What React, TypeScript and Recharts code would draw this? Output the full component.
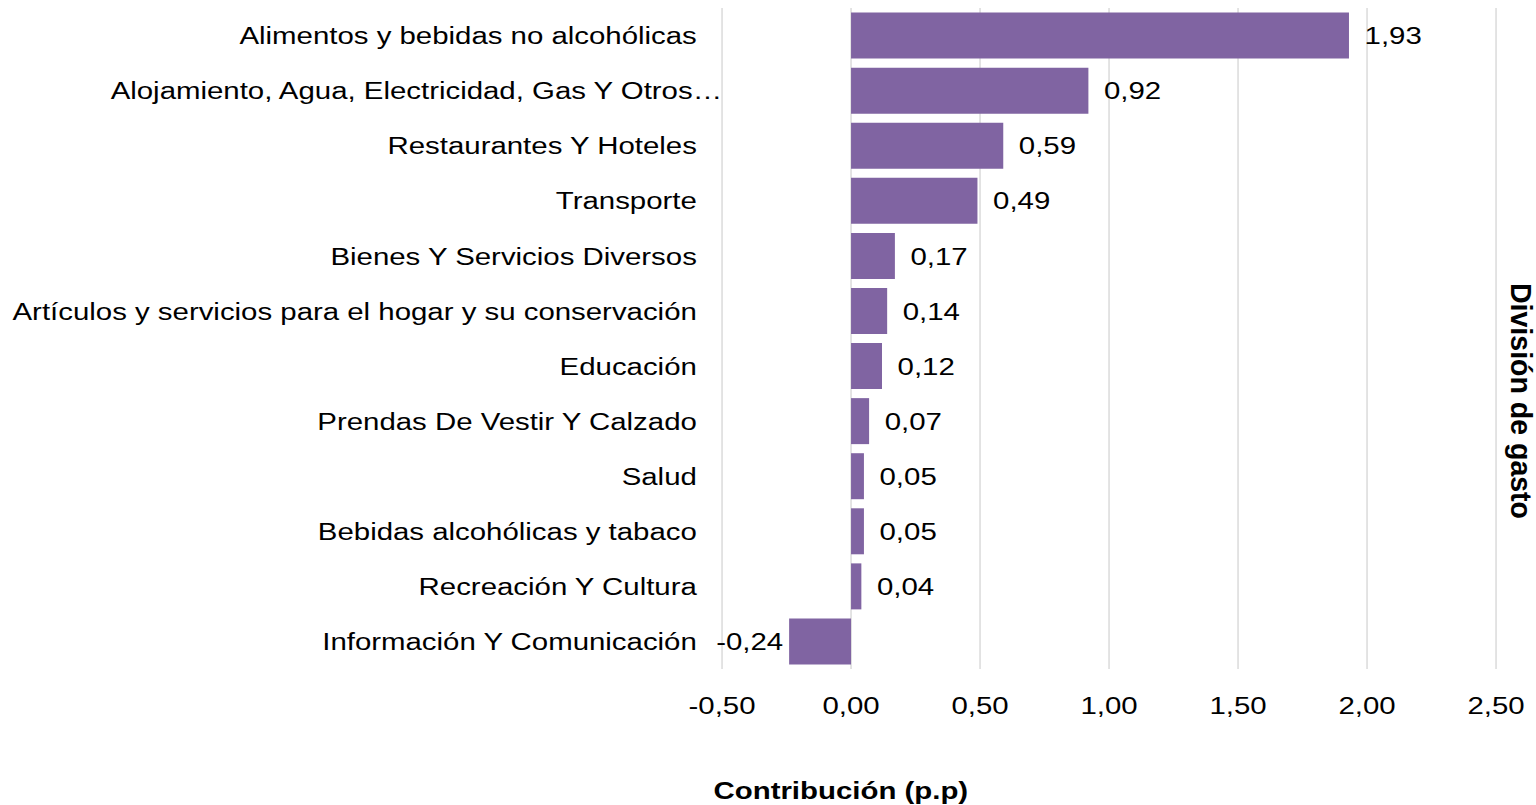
import React from 'react';
import { BarChart, Bar, XAxis, YAxis, CartesianGrid, LabelList } from 'recharts';

const categories: string[] = [
  'Alimentos y bebidas no alcohólicas',
  'Alojamiento, Agua, Electricidad, Gas Y Otros…',
  'Restaurantes Y Hoteles',
  'Transporte',
  'Bienes Y Servicios Diversos',
  'Artículos y servicios para el hogar y su conservación',
  'Educación',
  'Prendas De Vestir Y Calzado',
  'Salud',
  'Bebidas alcohólicas y tabaco',
  'Recreación Y Cultura',
  'Información Y Comunicación',
];

const contributions: number[] = [1.93, 0.92, 0.59, 0.49, 0.17, 0.14, 0.12, 0.07, 0.05, 0.05, 0.04, -0.24];

const xTicks: number[] = [-0.5, 0, 0.5, 1, 1.5, 2, 2.5];

const xTitle = 'Contribución (p.p)';
const yTitle = 'División de gasto';

const data = categories.map((name, i) => ({ name, value: contributions[i] }));

const FONT = '"Liberation Sans", Arial, Helvetica, sans-serif';
const FS = 24.5;
const STRETCH = 1.2;
const CHART_W = 1536 / STRETCH;
const CHART_H = 805;
const BAR_COLOR = '#8064A2';
const GRID_COLOR = '#D9D9D9';

const fmt = (v: number) => v.toFixed(2).replace('.', ',');

const YTick = (props: any) => {
  const { x, y, payload } = props;
  const label: string = String(payload.value);
  const shift = label.endsWith('…') ? 21 : 0;
  return (
    <text x={x + shift} y={y} dy="0.355em" textAnchor="end" fontSize={FS} fontFamily={FONT} fill="#000">
      {label}
    </text>
  );
};

const ValueLabel = (props: any) => {
  const vb = props.viewBox || {};
  const x = props.x ?? vb.x;
  const y = props.y ?? vb.y;
  const width = props.width ?? vb.width;
  const height = props.height ?? vb.height;
  const value = Number(props.value);
  const left = Math.min(x, x + width);
  const right = Math.max(x, x + width);
  const cy = y + height / 2;
  if (value < 0) {
    return (
      <text x={left - 5} y={cy} dy="0.355em" textAnchor="end" fontSize={FS} fontFamily={FONT} fill="#000">
        {fmt(value)}
      </text>
    );
  }
  return (
    <text x={right + 13} y={cy} dy="0.355em" textAnchor="start" fontSize={FS} fontFamily={FONT} fill="#000">
      {fmt(value)}
    </text>
  );
};

const XTitle = (props: any) => {
  const vb = props.viewBox || {};
  const cx = vb.x + 99;
  return (
    <text x={cx} y={799} textAnchor="middle" fontSize={FS} fontWeight="bold" fontFamily={FONT} fill="#000">
      {xTitle}
    </text>
  );
};

const YTitle = () => {
  return (
    <text
      transform={`translate(${CHART_W - 20.8}, 401) rotate(90)`}
      textAnchor="middle"
      fontSize={24}
      fontWeight="bold"
      fontFamily={FONT}
      fill="#000"
      textLength={236}
      lengthAdjust="spacingAndGlyphs"
    >
      {yTitle}
    </text>
  );
};

export default function App() {
  return (
    <div
      style={{
        position: 'absolute',
        left: 0,
        top: 0,
        width: CHART_W,
        height: CHART_H,
        transform: `scaleX(${STRETCH})`,
        transformOrigin: '0 0',
        background: '#fff',
      }}
    >
      <BarChart
        width={CHART_W}
        height={CHART_H}
        data={data}
        layout="vertical"
        margin={{ top: 8, right: CHART_W - 1246.7, bottom: 0, left: 0 }}
        barCategoryGap="8.25%"
      >
        <CartesianGrid horizontal={false} vertical={true} stroke={GRID_COLOR} strokeWidth={1.2} />
        <XAxis
          type="number"
          domain={[-0.5, 2.5]}
          ticks={xTicks}
          tickFormatter={fmt}
          axisLine={false}
          tickLine={false}
          tickSize={0}
          tickMargin={28}
          height={136}
          tick={{ fontSize: FS, fontFamily: FONT, fill: '#000' }}
          interval={0}
          label={XTitle}
        />
        <YAxis
          type="category"
          dataKey="name"
          width={601.7}
          axisLine={false}
          tickLine={false}
          tickSize={0}
          tickMargin={21}
          interval={0}
          tick={YTick}
          label={YTitle}
        />
        <Bar dataKey="value" fill={BAR_COLOR} isAnimationActive={false}>
          <LabelList dataKey="value" content={ValueLabel} />
        </Bar>
      </BarChart>
    </div>
  );
}
